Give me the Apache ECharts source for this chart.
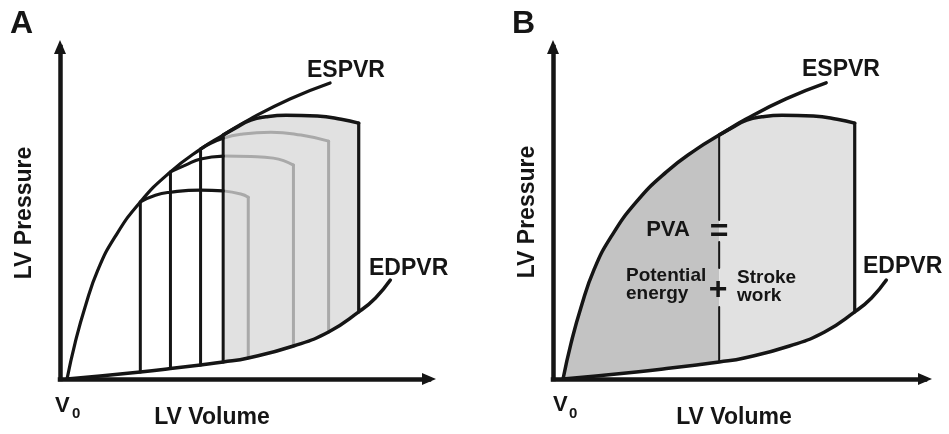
<!DOCTYPE html>
<html><head><meta charset="utf-8">
<script src="https://cdn.jsdelivr.net/npm/echarts@6/dist/echarts.min.js"></script>
<style>html,body{margin:0;padding:0;background:#fff}#c{width:949px;height:434px}</style>
</head><body><div id="c"></div>
<script>
// ---- data (volume units, pressure units) ----
const espvrV = [2.8, 6, 10, 15.1, 21.9, 32, 44, 56, 65, 75.7, 91.6, 107.6];
const espvrP = [0, 15.9, 31.9, 48.3, 62.9, 78.4, 91.7, 101.8, 108, 115.1, 124, 131.1];
const edpvrV = [2.8, 16, 32, 44, 56, 65, 75, 93, 107, 119, 125.7, 131.6];
const edpvrP = [0, 1.3, 3.1, 4.6, 6.2, 7.5, 9.3, 14.6, 20.8, 29.7, 35.9, 43.8];
// ejection arcs of the four loops (from end-systolic point to end-diastolic volume)
const loop1V = [32, 38, 44, 56, 65, 72, 75];
const loop1P = [78.4, 81.4, 82.7, 83.6, 83.3, 81.9, 80.5];
const loop2V = [44, 50, 56, 65, 76, 85, 93];
const loop2P = [91.7, 94.7, 97.4, 98.7, 98.5, 97.8, 94.7];
const loop3V = [56, 60, 65, 72, 84, 96, 107];
const loop3P = [101.8, 104.4, 106.6, 108.4, 109.3, 108, 105.3];
const loop4V = [65, 70, 76, 82, 90, 102.5, 112, 119];
const loop4P = [108, 111.2, 114.6, 116.1, 116.8, 116.4, 115, 113.3];
const loopsV = [loop1V, loop2V, loop3V, loop4V];
const loopsP = [loop1P, loop2P, loop3P, loop4P];
// panel B divider gaps (pressure ranges left open around "=" and "+")
const dividerGaps = [[31.9, 49.2], [60.7, 70.4]];

// ---- styling ----
const BLACK = '#151515', GRAYLINE = '#a9a9a9', LIGHT = '#e1e1e1', DARK = '#c3c3c3';
const FONT = '"Liberation Sans", Arial, sans-serif';
const SMOOTH = 0.5;

const pts = (V, P) => V.map((v, i) => [v, P[i]]);
const pAt = (V, P, v) => P[V.indexOf(v)];
const cutV = loop4V[0]; // end-systolic volume of the largest loop

function ln(g, data, color, width, z, smooth) {
  return { type: 'line', xAxisIndex: g, yAxisIndex: g, data, symbol: 'none',
    smooth: smooth === false ? false : SMOOTH, silent: true,
    lineStyle: { color, width, cap: 'round', join: 'round' }, z, animation: false };
}
function area(g, data, color, z) {
  return { type: 'line', xAxisIndex: g, yAxisIndex: g, data, symbol: 'none',
    smooth: SMOOTH, silent: true,
    lineStyle: { width: 0, opacity: 0 }, areaStyle: { color, opacity: 1 }, z, animation: false };
}
function vseg(g, v, p1, p2, color, width, z) {
  return ln(g, [[v, p1], [v, p2]], color, width, z, false);
}

const series = [];
const espvr = pts(espvrV, espvrP), edpvr = pts(edpvrV, edpvrP);
// ===== Panel A =====
series.push(area(0, pts(loop4V, loop4P), LIGHT, 1));
series.push(area(0, edpvr, '#ffffff', 2));
for (let k = 0; k < 3; k++) {
  const V = loopsV[k], P = loopsP[k];
  const gray = pts(V, P).filter(d => d[0] >= cutV);
  series.push(ln(0, gray, GRAYLINE, 3, 3));
  const edv = V[V.length - 1];
  series.push(vseg(0, edv, pAt(edpvrV, edpvrP, edv), P[P.length - 1], GRAYLINE, 3, 3));
}
for (let k = 0; k < 3; k++) {
  const V = loopsV[k], P = loopsP[k];
  series.push(ln(0, pts(V, P).filter(d => d[0] <= cutV), BLACK, 3.2, 4));
}
for (let k = 0; k < 4; k++) {
  const esv = loopsV[k][0];
  series.push(vseg(0, esv, pAt(edpvrV, edpvrP, esv), pAt(espvrV, espvrP, esv), BLACK, 3, 4));
}
series.push(ln(0, pts(loop4V, loop4P), BLACK, 3.5, 4));
series.push(vseg(0, loop4V[loop4V.length - 1], pAt(edpvrV, edpvrP, loop4V[loop4V.length - 1]), loop4P[loop4P.length - 1], BLACK, 3.2, 4));
series.push(ln(0, espvr, BLACK, 3.2, 5));
series.push(ln(0, edpvr, BLACK, 3.5, 5));

// ===== Panel B =====
series.push(area(1, espvr.filter(d => d[0] <= cutV), DARK, 1));
series.push(area(1, pts(loop4V, loop4P), LIGHT, 1));
series.push(area(1, edpvr, '#ffffff', 2));
{
  const lo = pAt(edpvrV, edpvrP, cutV), hi = pAt(espvrV, espvrP, cutV);
  const d = [[cutV, lo], [cutV, dividerGaps[0][0]], null, [cutV, dividerGaps[0][1]], [cutV, dividerGaps[1][0]], null, [cutV, dividerGaps[1][1]], [cutV, hi]];
  const s = ln(1, d.map(x => x === null ? '-' : x), BLACK, 2, 4, false);
  s.connectNulls = false;
  series.push(s);
}
series.push(ln(1, pts(loop4V, loop4P), BLACK, 3.5, 4));
series.push(vseg(1, loop4V[loop4V.length - 1], pAt(edpvrV, edpvrP, loop4V[loop4V.length - 1]), loop4P[loop4P.length - 1], BLACK, 3.2, 4));
series.push(ln(1, espvr, BLACK, 3.5, 5));
series.push(ln(1, edpvr, BLACK, 3.5, 5));

function axis(g, min, max) {
  return { gridIndex: g, type: 'value', min, max, z: 10,
    axisLine: { show: true, onZero: false, symbol: ['none', 'triangle'], symbolSize: [12, 14],
      lineStyle: { color: BLACK, width: 4.5, cap: 'square' } },
    axisTick: { show: false }, axisLabel: { show: false }, splitLine: { show: false } };
}

function t(x, y, text, size, align, extra) {
  return Object.assign({ type: 'text', x, y, z: 100,
    style: { text, font: `bold ${size}px ${FONT}`, fill: BLACK, align: align || 'left', verticalAlign: 'middle' } }, extra || {});
}
const graphic = [
  t(10, 24, 'A', 32), t(512, 24, 'B', 32),
  t(307, 71, 'ESPVR', 23), t(369, 269, 'EDPVR', 23),
  t(802, 70, 'ESPVR', 23), t(863, 267, 'EDPVR', 23),
  t(212, 418, 'LV Volume', 23, 'center'), t(734, 418, 'LV Volume', 23, 'center'),
  t(25, 213, 'LV Pressure', 23, 'center', { rotation: Math.PI / 2 }),
  t(528, 212, 'LV Pressure', 23, 'center', { rotation: Math.PI / 2 }),
  t(55, 406, 'V', 22), t(72, 414, '0', 15),
  t(553, 405, 'V', 22), t(569, 414, '0', 15),
  t(668, 230, 'PVA', 22, 'center'),
  t(719, 232, '=', 32, 'center'), t(718, 290, '+', 32, 'center'),
  t(626, 276, 'Potential', 19), t(626, 294, 'energy', 19),
  t(737, 278, 'Stroke', 19), t(737, 296, 'work', 19)
];

const chart = echarts.init(document.getElementById('c'), null, { renderer: 'canvas' });
chart.setOption({
  animation: false,
  backgroundColor: '#ffffff',
  grid: [{ left: 60, top: 47, width: 369, height: 332 }, { left: 553, top: 47, width: 372, height: 332 }],
  xAxis: [axis(0, 0, 147), axis(1, -1.2, 147)],
  yAxis: [axis(0, 0, 147), axis(1, 0, 147)],
  series,
  graphic
});
</script></body></html>
